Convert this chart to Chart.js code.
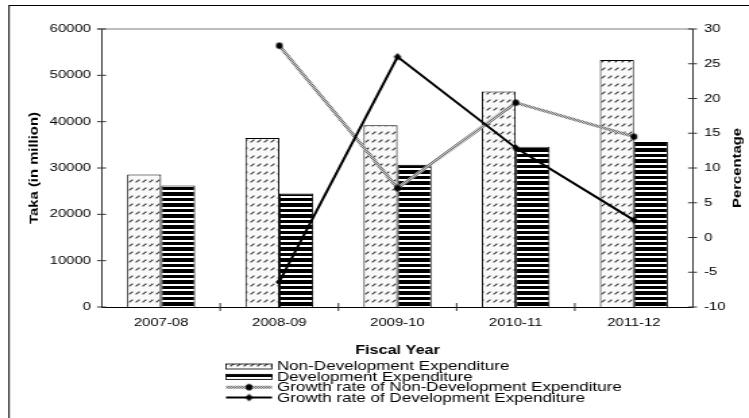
<!DOCTYPE html>
<html>
<head>
<meta charset="utf-8">
<script src="https://cdn.jsdelivr.net/npm/chart.js@4.4.1/dist/chart.umd.min.js"></script>
<style>
  html, body { margin: 0; padding: 0; background: #fff; overflow: hidden; }
  canvas { display: block; }
</style>
</head>
<body>
<canvas id="chart" width="555" height="418" style="width:749px;height:418px"></canvas>
<script>
// Expenditure (Taka in million) and yearly growth rates (%)
const fiscalYears = ['2007-08', '2008-09', '2009-10', '2010-11', '2011-12'];
const nonDevExpenditure = [28600, 36500, 39200, 46500, 53300];
const devExpenditure = [26200, 24500, 30700, 34600, 35600];
const nonDevGrowth = [null, 27.6, 7.1, 19.4, 14.5];
const devGrowth = [null, -6.4, 26.0, 12.9, 2.5];

const takaTicks = { min: 0, max: 60000, step: 10000 };
const percentTicks = { min: -10, max: 30, step: 5 };

const seriesLabels = [
  'Non-Development Expenditure',
  'Development Expenditure',
  'Growth rate of Non-Development Expenditure',
  'Growth rate of Development Expenditure'
];

// The canvas is drawn narrow and widened by CSS, giving the wide lettering.
const CANVAS_W = 555;
const S = 749 / CANVAS_W;
const FONT = '"Liberation Sans", Arial, sans-serif';
const FS = 11;        // tick labels and axis titles
const FS_LEGEND = 12.6;

function tile(w, h, paint) {
  const c = document.createElement('canvas');
  c.width = w; c.height = h;
  paint(c.getContext('2d'));
  return c;
}
const ctx0 = document.createElement('canvas').getContext('2d');

// light fill with short upward-diagonal dashes
const dashPattern = ctx0.createPattern(tile(5, 8, g => {
  g.fillStyle = '#fafafa'; g.fillRect(0, 0, 5, 8);
  g.strokeStyle = '#333'; g.lineWidth = 1.1;
  g.beginPath(); g.moveTo(0.6, 6.4); g.lineTo(3.4, 3.6); g.stroke();
}), 'repeat');

// heavy horizontal stripes
const stripePattern = ctx0.createPattern(tile(4, 11, g => {
  g.fillStyle = '#fff'; g.fillRect(0, 0, 4, 11);
  g.fillStyle = '#000'; g.fillRect(0, 0, 4, 3); g.fillRect(0, 5, 4, 4);
}), 'repeat');

// mottled grey for the non-development growth line
const greyTexture = ctx0.createPattern(tile(2, 2, g => {
  g.fillStyle = '#707070'; g.fillRect(0, 0, 2, 2);
  g.fillStyle = '#c8c8c8'; g.fillRect(0, 0, 1, 1); g.fillRect(1, 1, 1, 1);
}), 'repeat');

// markers drawn narrower so they stay round once widened
function markerImage(kind, r) {
  const w = Math.ceil(2 * r / S) + 2, h = Math.ceil(2 * r) + 2;
  return tile(w, h, g => {
    g.fillStyle = '#000';
    g.beginPath();
    if (kind === 'circle') {
      g.ellipse(w / 2, h / 2, r / S, r, 0, 0, Math.PI * 2);
    } else {
      g.moveTo(w / 2, h / 2 - r); g.lineTo(w / 2 + r / S, h / 2);
      g.lineTo(w / 2, h / 2 + r); g.lineTo(w / 2 - r / S, h / 2);
      g.closePath();
    }
    g.fill();
  });
}
const circleMark = markerImage('circle', 3.3);
const diamondMark = markerImage('diamond', 3.8);

function drawRotated(ctx, text, x, y) {
  ctx.save();
  ctx.translate(x, y);
  ctx.rotate(-Math.PI / 2);
  ctx.scale(S, 1 / S);
  ctx.textAlign = 'center';
  ctx.textBaseline = 'middle';
  ctx.fillText(text, 0, 0);
  ctx.restore();
}

const frame = {
  id: 'frame',
  beforeDraw(chart) {
    const ctx = chart.ctx, a = chart.chartArea;
    ctx.save();
    ctx.fillStyle = '#fff';
    ctx.fillRect(0, 0, chart.width, chart.height);
    ctx.strokeStyle = '#000';
    ctx.lineWidth = 1;
    ctx.strokeRect(9 / S, 5.5, chart.width + 20, chart.height + 20);
    ctx.strokeStyle = '#a8a8a8';
    ctx.lineWidth = 1.6;
    ctx.beginPath();
    ctx.moveTo(a.left - 3.5, a.top);
    ctx.lineTo(a.right, a.top);
    ctx.stroke();
    ctx.restore();
  },
  afterDraw(chart) {
    const ctx = chart.ctx, a = chart.chartArea;
    const xs = chart.scales.x, yl = chart.scales.y, yr = chart.scales.y1;
    ctx.save();
    // tick marks crossing the axes
    ctx.strokeStyle = '#333';
    ctx.lineWidth = 1;
    ctx.beginPath();
    yl.ticks.forEach(t => {
      const y = yl.getPixelForValue(t.value);
      ctx.moveTo(a.left - 3.7, y); ctx.lineTo(a.left + 3, y);
    });
    yr.ticks.forEach(t => {
      const y = yr.getPixelForValue(t.value);
      ctx.moveTo(a.right - 3.7, y); ctx.lineTo(a.right + 3, y);
    });
    for (let i = 1; i < fiscalYears.length; i++) {
      const x = (xs.getPixelForValue(i - 1) + xs.getPixelForValue(i)) / 2;
      ctx.moveTo(x, a.bottom - 4); ctx.lineTo(x, a.bottom + 4);
    }
    ctx.stroke();

    // axis titles
    ctx.fillStyle = '#000';
    ctx.font = `bold ${FS}px ${FONT}`;
    drawRotated(ctx, 'Taka (in million)', 35 / S, (a.top + a.bottom) / 2);
    drawRotated(ctx, 'Percentage', 738 / S, (a.top + a.bottom) / 2);
    ctx.font = `bold 12px ${FONT}`;
    ctx.textAlign = 'center';
    ctx.textBaseline = 'middle';
    ctx.fillText('Fiscal Year', (a.left + a.right) / 2, 351);

    // legend
    const x0 = 226 / S, x1 = 272 / S, tx = 277 / S;
    ctx.font = `${FS_LEGEND}px ${FONT}`;
    ctx.textAlign = 'left';
    chart.data.datasets.forEach((ds, i) => {
      const y = 366.5 + i * 10.35;
      if (ds.type === 'bar') {
        ctx.fillStyle = ds.backgroundColor;
        ctx.fillRect(x0, y - 2.5, x1 - x0, 5);
        ctx.strokeStyle = '#000';
        ctx.lineWidth = 0.8;
        ctx.strokeRect(x0, y - 2.5, x1 - x0, 5);
      } else {
        ctx.strokeStyle = ds.borderColor;
        ctx.lineWidth = ds.borderWidth;
        ctx.beginPath(); ctx.moveTo(x0, y); ctx.lineTo(x1, y); ctx.stroke();
        const m = ds.pointStyle;
        ctx.drawImage(m, (x0 + x1) / 2 - m.width / 2, y - m.height / 2);
      }
      ctx.fillStyle = '#000';
      ctx.fillText(ds.label, tx, y + 0.5);
    });
    ctx.restore();
  }
};

const tickFont = { family: FONT, size: FS };
const plainNumber = v => String(v);

new Chart(document.getElementById('chart'), {
  data: {
    labels: fiscalYears,
    datasets: [
      {
        type: 'bar', label: seriesLabels[0], data: nonDevExpenditure, yAxisID: 'y',
        backgroundColor: dashPattern, borderColor: '#000', borderWidth: 1, order: 2
      },
      {
        type: 'bar', label: seriesLabels[1], data: devExpenditure, yAxisID: 'y',
        backgroundColor: stripePattern, borderColor: '#000', borderWidth: 1, order: 2
      },
      {
        type: 'line', label: seriesLabels[2], data: nonDevGrowth, yAxisID: 'y1',
        borderColor: greyTexture, borderWidth: 3, pointStyle: circleMark, pointRadius: 3.5,
        fill: false, tension: 0, order: 1
      },
      {
        type: 'line', label: seriesLabels[3], data: devGrowth, yAxisID: 'y1',
        borderColor: '#000', borderWidth: 2, pointStyle: diamondMark, pointRadius: 3.5,
        fill: false, tension: 0, order: 0
      }
    ]
  },
  options: {
    responsive: false,
    animation: false,
    events: [],
    layout: { padding: { top: 29, left: 0, right: 0, bottom: 0 } },
    datasets: { bar: { categoryPercentage: 0.575, barPercentage: 1 } },
    plugins: { legend: { display: false }, tooltip: { enabled: false } },
    scales: {
      x: {
        type: 'category',
        offset: true,
        grid: { display: false, drawTicks: true, tickLength: 4 },
        border: { display: true, color: '#000', width: 1 },
        ticks: { font: tickFont, color: '#000', padding: 5, maxRotation: 0 },
        afterFit(s) { s.height = 418 - 307; }
      },
      y: {
        position: 'left',
        min: takaTicks.min, max: takaTicks.max,
        grid: { display: false, drawTicks: true, tickLength: 4 },
        border: { display: true, color: '#333', width: 1 },
        ticks: { stepSize: takaTicks.step, font: tickFont, color: '#000', padding: 4.2, callback: plainNumber },
        afterFit(s) { s.width = 102 / S; }
      },
      y1: {
        position: 'right',
        min: percentTicks.min, max: percentTicks.max,
        grid: { display: false, drawTicks: true, tickLength: 4 },
        border: { display: true, color: '#333', width: 1 },
        ticks: { stepSize: percentTicks.step, font: tickFont, color: '#000', padding: 4.2, callback: plainNumber },
        afterFit(s) { s.width = CANVAS_W - 693 / S; }
      }
    }
  },
  plugins: [frame]
});
</script>
</body>
</html>
